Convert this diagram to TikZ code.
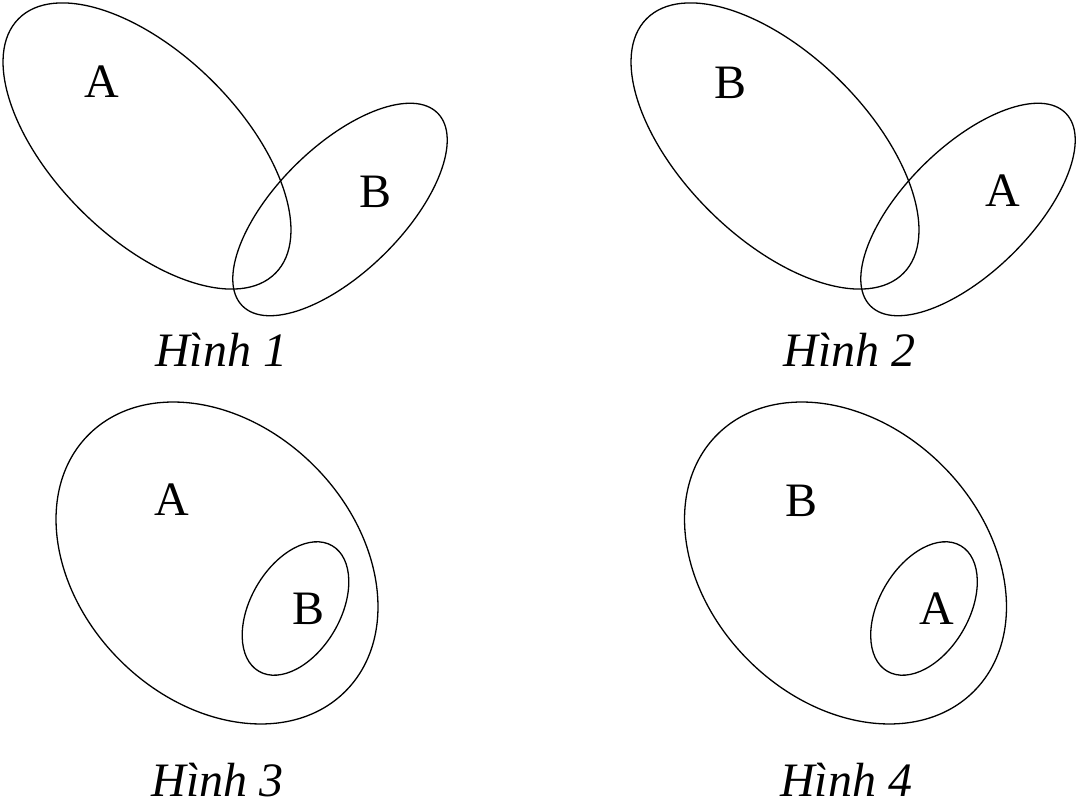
\documentclass[tikz,border=0pt]{standalone}
\usepackage{fontspec}
\setmainfont{Liberation Serif}
\begin{document}
\begin{tikzpicture}[x=1pt,y=1pt,
  setline/.style={line width=1.3pt},
  lab/.style={inner sep=0pt,font=\fontsize{48}{50}\selectfont},
  captext/.style={inner sep=0pt,anchor=base,font=\fontsize{48}{50}\selectfont\itshape}]
\useasboundingbox (0,0) rectangle (1078,806);
% Figure 1
\draw[setline,rotate around={-44.7:(147,660)}] (147,660) ellipse [x radius=180.8pt,y radius=92.2pt];
\draw[setline,rotate around={44.6:(340,596.5)}] (340,596.5) ellipse [x radius=137.2pt,y radius=62.9pt];
\node[lab] (a1) at (101.7,724.5) {A};
\node[lab] (b1) at (376,614.5) {B};
\node[captext] (h1) at (221,439) {Hình 1};
% Figure 2
\draw[setline,rotate around={-44.7:(775,660)}] (775,660) ellipse [x radius=180.8pt,y radius=92.2pt];
\draw[setline,rotate around={44.6:(968,596.5)}] (968,596.5) ellipse [x radius=137.2pt,y radius=62.9pt];
\node[lab] (b2) at (730.5,723.5) {B};
\node[lab] (a2) at (1003,615) {A};
\node[captext] (h2) at (849.5,439) {Hình 2};
% Figure 3
\draw[setline,rotate around={-45:(217,243)}] (217,243) ellipse [x radius=181.5pt,y radius=137.4pt];
\draw[setline,rotate around={59.7:(295.5,197.5)}] (295.5,197.5) ellipse [x radius=72.7pt,y radius=44.8pt];
\node[lab] (a3) at (171.5,306) {A};
\node[lab] (b3) at (309,197) {B};
\node[captext] (h3) at (217.5,10) {Hình 3};
% Figure 4
\draw[setline,rotate around={-45:(845.5,243)}] (845.5,243) ellipse [x radius=181.5pt,y radius=137.4pt];
\draw[setline,rotate around={59.7:(924,197.5)}] (924,197.5) ellipse [x radius=72.7pt,y radius=44.8pt];
\node[lab] (b4) at (801.5,305.5) {B};
\node[lab] (a4) at (936.7,197.5) {A};
\node[captext] (h4) at (846,10) {Hình 4};
\end{tikzpicture}
\end{document}
